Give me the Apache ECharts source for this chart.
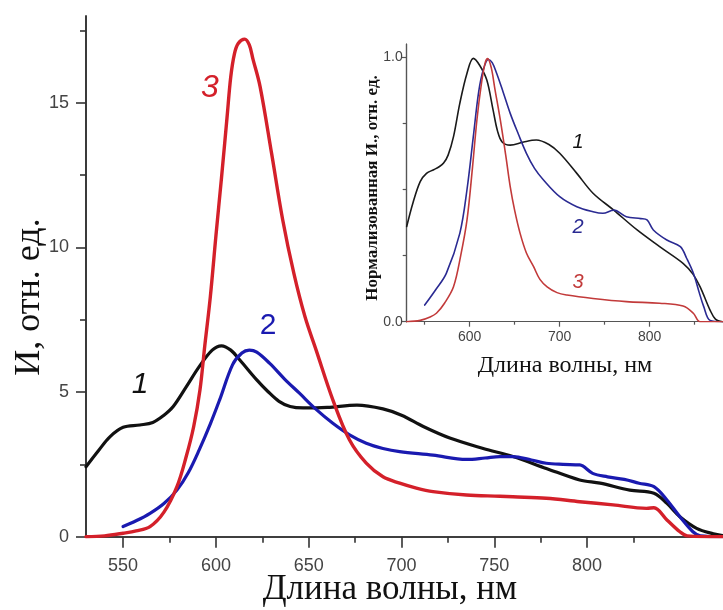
<!DOCTYPE html>
<html><head><meta charset="utf-8">
<script src="https://cdn.jsdelivr.net/npm/echarts@6/dist/echarts.min.js"></script>
<style>html,body{margin:0;padding:0;background:#fff}#c{width:723px;height:610px}</style>
</head><body><div id="c"></div>
<script>
// Main chart data: [wavelength nm, intensity rel. units]
const mainCurve1 = [[530,2.42],[537,3.0],[543,3.46],[550,3.78],[559,3.86],[566,3.95],[572,4.2],[577,4.5],[584,5.18],[591,5.88],[598,6.45],[603,6.6],[608,6.45],[613,6.1],[622,5.42],[628,5.02],[634,4.68],[640,4.5],[647,4.45],[660,4.47],[676,4.55],[690,4.42],[700,4.2],[712,3.8],[726,3.41],[744,3.05],[760,2.77],[778,2.36],[796,1.96],[807,1.85],[823,1.61],[836,1.50],[843,1.15],[850,0.69],[859,0.29],[868,0.1],[873,0.04]];
const mainCurve2 = [[550,0.35],[557,0.55],[564.5,0.81],[572,1.15],[579,1.61],[585,2.2],[591,3.0],[597,3.9],[602,4.73],[609,5.95],[614,6.35],[618,6.45],[622,6.38],[629,5.99],[637,5.45],[645,4.96],[654,4.4],[663,3.92],[672,3.52],[681,3.23],[690,3.05],[699,2.94],[717,2.82],[735,2.67],[745,2.72],[753,2.77],[760,2.77],[770,2.65],[778,2.54],[787,2.5],[796,2.48],[803,2.19],[811,2.07],[820,1.98],[828,1.85],[836,1.73],[843,1.27],[850,0.69],[857,0.17],[861,0.03],[873,0.0]];
const mainCurve3 = [[530,0],[540,0.03],[550,0.12],[557,0.2],[564.5,0.35],[572,0.85],[579,1.73],[584,2.77],[588,3.8],[591.4,5.07],[594,6.6],[597,8.3],[600,10.4],[603,12.4],[606,14.5],[608,15.9],[610,16.7],[612,17.05],[615.5,17.2],[618,17.0],[620,16.5],[623.8,15.56],[630,13.25],[636,10.95],[642,9.1],[648,7.6],[654,6.45],[663,4.73],[672,3.34],[681,2.54],[690,2.07],[699,1.85],[708,1.68],[717,1.56],[735,1.44],[753,1.40],[760,1.38],[778,1.33],[796,1.21],[814,1.10],[832,0.98],[836,1.0],[843,0.58],[850,0.17],[854,0.03],[873,0]];
// Inset data: normalized intensity
const insetCurve1 = [[530,0.36],[537,0.45],[545,0.53],[552,0.561],[560,0.575],[566,0.586],[571,0.6],[576,0.63],[582,0.7],[589,0.826],[597,0.94],[604,0.996],[611,0.97],[619,0.914],[626,0.8],[631,0.72],[636,0.68],[645,0.668],[660,0.68],[674,0.687],[688,0.67],[700,0.637],[719,0.561],[737,0.486],[760,0.422],[786,0.347],[811,0.284],[837,0.221],[848,0.18],[856,0.132],[867,0.044],[873,0.01],[881,0]];
const insetCurve2 = [[550,0.063],[562,0.12],[574,0.183],[589,0.334],[597,0.5],[604,0.70],[610,0.87],[615,0.952],[620.7,0.992],[625,0.98],[630,0.939],[637,0.87],[645,0.788],[654,0.71],[663,0.637],[672,0.58],[682,0.536],[700,0.473],[719,0.435],[737,0.416],[748,0.41],[760,0.422],[774,0.397],[790,0.39],[797,0.385],[804,0.347],[819,0.309],[834,0.284],[841,0.24],[848.5,0.183],[855,0.11],[860,0.057],[867,0.005],[881,0]];
const insetCurve3 = [[530,0],[545,0.005],[556,0.018],[563,0.032],[572,0.07],[582,0.132],[590,0.25],[597,0.385],[603,0.58],[608,0.763],[613,0.9],[617,0.977],[620,0.995],[624,0.96],[628,0.88],[634,0.763],[640,0.63],[645,0.511],[650,0.42],[656,0.334],[663,0.26],[671,0.208],[678,0.16],[686,0.132],[697,0.11],[708,0.101],[737,0.088],[774,0.076],[811,0.07],[837,0.059],[848.5,0.032],[856,0.0],[881,0]];
// Ticks
const mainXTicks = [550,600,650,700,750,800];
const mainXMinor = [575,625,675,725,775,825];
const mainYTicks = [0,5,10,15];
const mainYMinor = [2.5,7.5,12.5,17.5];
const insetXTicks = [600,700,800];
const insetXMinor = [550,650,750,850];
const insetYTicks = [0,1];
const insetYMinor = [0.25,0.5,0.75];

const chart = echarts.init(document.getElementById('c'), null, {renderer:'canvas'});
const axCol = '#333';
const insCol = '#555';
const sans = 'Liberation Sans';

function xAx(grid, min, max, ticks, len, col, w, fs, margin, showLabel, fmt){
  return {type:'value', gridIndex:grid, min:min, max:max, position:'bottom',
    axisLine:{show:true, onZero:false, lineStyle:{color:col, width:w}},
    axisTick:{show:true, customValues:ticks, length:len, lineStyle:{color:col, width:w}},
    axisLabel:{show:showLabel, customValues:ticks, margin:margin, color:'#444', fontFamily:sans, fontSize:fs, formatter:fmt},
    splitLine:{show:false}};
}
function yAx(grid, min, max, ticks, len, col, w, fs, margin, showLabel, fmt){
  return {type:'value', gridIndex:grid, min:min, max:max, position:'left',
    axisLine:{show:true, onZero:false, lineStyle:{color:col, width:w}},
    axisTick:{show:true, customValues:ticks, length:len, lineStyle:{color:col, width:w}},
    axisLabel:{show:showLabel, customValues:ticks, margin:margin, color:'#444', fontFamily:sans, fontSize:fs, formatter:fmt},
    splitLine:{show:false}};
}
const f1 = v => v.toFixed(1);

function line(data, color, width, xi, yi){
  return {type:'line', data:data, xAxisIndex:xi, yAxisIndex:yi, smooth:0.35, showSymbol:false, symbol:'none',
    lineStyle:{color:color, width:width, join:'round', cap:'round'}, silent:true, animation:false};
}

chart.setOption({
  animation:false,
  backgroundColor:'#fff',
  grid:[
    {left:86, top:16, width:636.6, height:520.7},
    {left:406.7, top:44.1, width:316.3, height:277.6}
  ],
  xAxis:[
    xAx(0,530,873,mainXTicks,11,axCol,1.6,18,20,true),
    xAx(0,530,873,mainXMinor,6,axCol,1.6,18,20,false),
    xAx(1,530,881.4,insetXTicks,5,insCol,1.2,14,8,true),
    xAx(1,530,881.4,insetXMinor,3,insCol,1.2,14,8,false)
  ],
  yAxis:[
    yAx(0,0,18,mainYTicks,10,axCol,1.6,18,17,true),
    yAx(0,0,18,mainYMinor,6,axCol,1.6,18,17,false),
    yAx(1,0,1.05,insetYTicks,5,insCol,1.2,14,4,true,f1),
    yAx(1,0,1.05,insetYMinor,4,insCol,1.2,14,4,false)
  ],
  series:[
    line(mainCurve1,'#111111',3.2,0,0),
    line(mainCurve2,'#1a1ab0',3.2,0,0),
    line(mainCurve3,'#d4202a',3.4,0,0),
    line(insetCurve1,'#1a1a1a',1.6,2,2),
    line(insetCurve2,'#2a2a92',1.6,2,2),
    line(insetCurve3,'#c23a3a',1.6,2,2)
  ],
  graphic:[
    {type:'text', x:30, y:297, rotation:Math.PI/2, style:{text:'И, отн. ед.', font:'36px "Liberation Serif"', fill:'#111', textAlign:'center', textVerticalAlign:'middle'}},
    {type:'text', x:390, y:590, style:{text:'Длина волны, нм', font:'35px "Liberation Serif"', fill:'#111', textAlign:'center', textVerticalAlign:'middle'}},
    {type:'text', x:373, y:188, rotation:Math.PI/2, style:{text:'Нормализованная И., отн. ед.', font:'bold 17px "Liberation Serif"', fill:'#111', textAlign:'center', textVerticalAlign:'middle'}},
    {type:'text', x:565, y:366, style:{text:'Длина волны, нм', font:'24px "Liberation Serif"', fill:'#111', textAlign:'center', textVerticalAlign:'middle'}},
    {type:'text', x:210, y:88, style:{text:'3', font:'italic 32px "Liberation Sans"', fill:'#d4202a', textAlign:'center', textVerticalAlign:'middle'}},
    {type:'text', x:268, y:326, style:{text:'2', font:'30px "Liberation Sans"', fill:'#1a1ab0', textAlign:'center', textVerticalAlign:'middle'}},
    {type:'text', x:140, y:385, style:{text:'1', font:'italic 30px "Liberation Sans"', fill:'#111', textAlign:'center', textVerticalAlign:'middle'}},
    {type:'text', x:578, y:142, style:{text:'1', font:'italic 20px "Liberation Sans"', fill:'#111', textAlign:'center', textVerticalAlign:'middle'}},
    {type:'text', x:578, y:227, style:{text:'2', font:'italic 20px "Liberation Sans"', fill:'#2a2a92', textAlign:'center', textVerticalAlign:'middle'}},
    {type:'text', x:578, y:282, style:{text:'3', font:'italic 20px "Liberation Sans"', fill:'#c23a3a', textAlign:'center', textVerticalAlign:'middle'}}
  ]
});
</script></body></html>
